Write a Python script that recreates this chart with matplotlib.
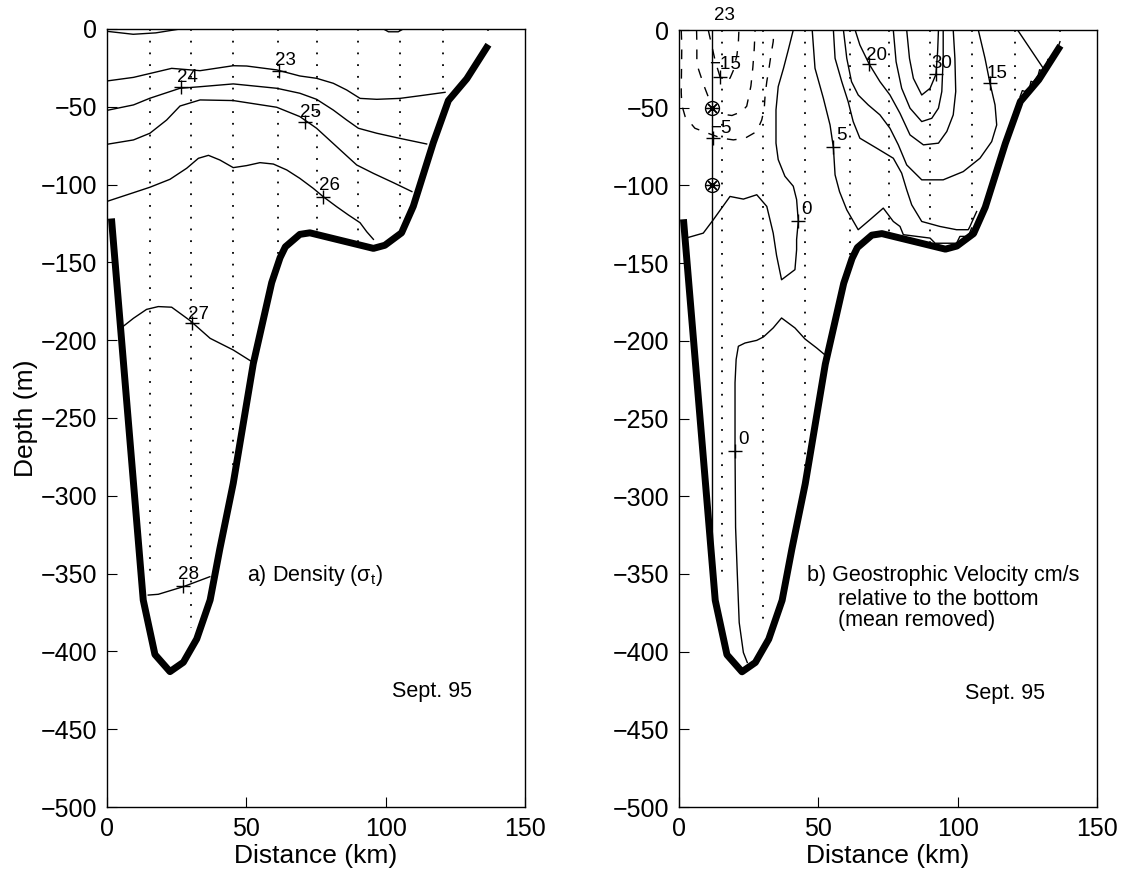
import numpy as np
import matplotlib.pyplot as plt

plt.rcParams['font.family'] = ['Liberation Sans', 'DejaVu Sans']
plt.rcParams['mathtext.fontset'] = 'custom'
plt.rcParams['mathtext.rm'] = 'Liberation Sans'
plt.rcParams['mathtext.it'] = 'Liberation Sans'

# bottom profile along the section (km, m)
bottom_km = [1.7, 13.0, 17.2, 22.6, 27.4, 32.2, 37.0, 40.5, 45.3, 52.5, 59.1, 62.1, 64.0,
             69.2, 72.8, 95.6, 99.7, 105.7, 109.9, 117.1, 122.5, 129.1, 136.2]
bottom_m = [-124, -367, -402, -413, -407, -392, -367, -334, -292, -215, -163, -147, -140,
            -132, -131, -141, -139, -131, -114, -73, -46, -32, -12]

# CTD stations and the depth of each cast
stations_km = [15.4, 30.1, 45.1, 61.3, 75.2, 90.1, 105.1, 120.7, 136.6]
cast_m = [-352, -385, -290, -150, -134, -139, -128, -40, -7]

# a) density (sigma_t) isolines, (km, m)
sig22 = [(0, -1.5), (9.4, -3.4), (17.5, -2.5), (26.2, 0)]
sig22b = [(99.2, 0), (101, -1.8), (104.5, -1.8), (106.3, 0)]
sig23 = [(0, -33.4), (9.5, -31.1), (23.2, -25.3), (33.4, -26.8), (45.3, -23.6), (50.1, -23.8),
         (60.9, -26.3), (69.2, -30.2), (75.2, -31.7), (81.2, -34.9), (86.0, -39.2), (90.8, -44.6),
         (96.8, -45.2), (105.1, -44.6), (112.3, -42.9), (121.3, -40.7)]
sig24 = [(0, -52.3), (9.5, -48.8), (15.4, -44.5), (26.2, -38.1), (33.4, -37.1), (45.3, -35.3),
         (60.9, -38.1), (69.2, -41.3), (75.2, -45.2), (81.2, -52.1), (86.0, -58.5), (90.2, -63.8),
         (96.8, -67.0), (105.1, -70.3), (114.7, -73.9)]
sig25 = [(0, -74.1), (9.5, -71.3), (15.4, -67.0), (21.4, -58.5), (26.2, -49.5), (33.4, -45.6),
         (45.3, -46.0), (60.9, -50.3), (69.2, -56.3), (75.2, -63.8), (82.4, -75.6), (89.6, -87.4),
         (95.6, -92.8), (102.8, -98.8), (109.4, -104.5)]
sig26 = [(0, -110.8), (9.5, -105.2), (15.4, -101.7), (22.6, -96.6), (28.6, -89.5), (32.8, -83.1),
         (36.4, -81.2), (40.5, -84.2), (45.3, -89.1), (50.1, -87.8), (54.9, -85.9), (59.7, -86.8),
         (64.5, -90.6), (69.2, -96.0), (74.0, -102.4), (77.6, -107.8), (82.4, -114.2), (86.6, -119.5),
         (90.8, -124.5), (93.2, -130.3), (95.6, -135.2)]
sig27 = [(4.9, -192.4), (9.5, -185.9), (14.2, -180.2), (18.4, -178.4), (23.2, -178.8), (29.8, -187.4),
         (37.0, -198.8), (45.3, -206.3), (52.5, -214.4)]
sig28 = [(14.8, -363.8), (18.4, -363.3), (27.4, -358.4), (36.9, -352.0)]

dens_text = ['23', '24', '25', '26', '27', '28']
dens_text_km = [63.9, 28.8, 73.1, 79.8, 32.8, 29.2]
dens_text_m = [-20, -31, -53.8, -100.9, -183.2, -350.5]
dens_mark_km = [61.7, 26.5, 71.1, 77.4, 30.4, 27.4]
dens_mark_m = [-26.7, -37.5, -60, -107.8, -189, -358]

# b) geostrophic velocity isolines (cm/s), (km, m)
vm5 = [(0.8, 0), (1.0, -10), (0.8, -40), (1.0, -48.2), (2.2, -55.7), (5.7, -63.2), (10.5, -66.5),
       (15.3, -69.6), (19.5, -70.7), (23.7, -69.6), (27.9, -65.3), (29.7, -57.8), (30.6, -50.3),
       (30.9, -41.8), (31.5, -33.2), (32.3, -24.6), (33.0, -16.1), (33.8, -7.5), (34.1, 0)]
vm10 = [(6.3, 0), (6.4, -8), (6.4, -22), (7.5, -28), (9.0, -36), (10.5, -43), (12.5, -50), (15.0, -54),
        (19.0, -55), (22.5, -52.5), (24.3, -49), (25.8, -36), (26.5, -24), (27.0, -12), (27.3, 0)]
vm15 = [(10.5, 0), (11.7, -9.6), (13.0, -20), (14.7, -30), (16.5, -32), (18.3, -31), (19.5, -26),
        (20.8, -16), (21.3, -8), (21.5, 0)]
v0a = [(2.3, -134), (8.7, -130.7), (12.3, -122.1), (18.3, -107.1), (23.1, -108.8), (27.9, -106),
       (31.5, -113.5), (33.8, -130.7), (35.0, -145), (36.8, -160.7), (41.6, -154.2), (42.2, -141.4),
       (42.2, -134.8), (42.8, -123), (42.2, -109.1), (41.0, -100.5), (38.0, -94.1), (35.6, -83.4),
       (34.8, -72.8), (34.8, -51.4), (35.6, -36.4), (37.5, -24.6), (39.2, -12.9), (41.0, 0)]
v0b = [(53.0, -210), (49.4, -204.6), (45.2, -198.8), (41.6, -191.7), (36.8, -185.3), (33.8, -191.7),
       (30.3, -197.5), (27.9, -199.7), (23.7, -201.4), (21.3, -203.5), (20.5, -212), (20.1, -227),
       (20.1, -270), (20.3, -320), (20.9, -349.2), (21.6, -381.3), (23.1, -400.6), (24.5, -407)]
v5 = [(47.8, 0), (48.8, -24.6), (51.8, -43.9), (54.2, -61.1), (55.4, -75.6), (56.0, -93.2), (57.6, -104),
      (60.2, -115.7), (64.3, -128.5), (68.5, -122.1), (73.3, -114.6), (76.9, -123.2), (79.3, -126.4),
      (80.5, -131.7), (90.1, -133.9), (91.9, -137.2), (99.6, -137.2), (100.8, -132.8), (103.8, -132.8),
      (105.0, -127.4)]
v10 = [(55.4, 0), (56.0, -18.2), (58.4, -33.2), (60.7, -46.1), (62.5, -58.9), (64.9, -69.6), (70.9, -76.0),
       (76.9, -82.5), (79.9, -92.1), (81.7, -102.8), (83.5, -112.5), (87.1, -123.2), (93.6, -126.4),
       (99.6, -128.5), (103.8, -128.5), (104.4, -126.4), (106.8, -116.8)]
v15 = [(59.0, 0), (60.2, -18.2), (61.9, -33.2), (64.3, -41.8), (67.9, -48.2), (72.1, -54.6), (75.7, -63.2),
       (78.7, -73.9), (81.7, -86.8), (87.1, -96.4), (94.8, -96.4), (102.0, -91.1), (108.0, -82.5),
       (112.2, -71.8), (114.0, -61.1), (113.4, -48.2), (111.6, -34.3), (109.8, -18.2), (107.4, 0)]
v20 = [(63.2, 0), (64.9, -9.6), (68.3, -22.1), (72.1, -33.2), (75.7, -41.8), (79.3, -53.6), (82.9, -67.5),
       (87.7, -73.9), (93.1, -72.8), (96.1, -65.3), (98.4, -54.6), (99.3, -39.6), (99.0, -18.2), (98.4, 0)]
v25 = [(76.9, 0), (77.9, -20.4), (79.9, -37.5), (82.9, -50.3), (87.1, -58.9), (90.7, -56.8), (93.1, -50.3),
       (94.3, -39.6), (94.8, -18.2), (94.8, 0)]
v30 = [(81.7, 0), (82.7, -18.2), (84.1, -31.1), (87.1, -41.8), (90.1, -37.5), (92.2, -28.5), (92.8, -13.9),
       (93.1, 0)]
v10b = [(121.5, 0), (130.7, -24.6)]
v_slope = [(122.4, -42.9), (123.2, -39.0), (124.1, -39.5), (125.9, -36.4), (126.3, -33.0), (127.1, -33.5),
           (128.9, -28.9), (129.4, -25.5), (130.1, -26.2), (131.9, -22.5), (132.4, -18.8), (133.1, -19.5),
           (134.9, -17.1), (136.7, -7.5)]

vel_text = ['\u221215', '\u22125', '0', '0', '5', '20', '30', '15']
vel_text_km = [16.5, 15.0, 45.8, 23.1, 58.4, 71.0, 94.3, 114.0]
vel_text_m = [-22.5, -63.2, -115.7, -263.5, -68.1, -16.1, -21.4, -27.8]
vel_mark_km = [14.7, 12.3, 42.8, 20.1, 55.4, 68.3, 92.2, 111.6]
vel_mark_m = [-30, -69.6, -123, -270.6, -75, -22.1, -28.5, -34.3]

# current meter mooring (station 23)
mooring_km = 11.7
meter_m = [-50, -100]


def draw_line(ax, pts, **kw):
    xy = np.array(pts)
    ax.plot(xy[:, 0], xy[:, 1], color='black', lw=1.0, **kw)


def setup(ax):
    ax.set_xlim(0, 150)
    ax.set_ylim(-500, 0)
    ax.set_xticks([0, 50, 100, 150])
    ax.set_yticks(np.arange(-500, 1, 50))
    ax.tick_params(direction='in', length=7, width=0.8, labelsize=18, pad=7)
    for s in ax.spines.values():
        s.set_linewidth(1.0)
    ax.set_xlabel('Distance (km)', fontsize=19, labelpad=2)
    # stations
    for sx, sd in zip(stations_km, cast_m):
        ax.plot([sx, sx], [0, sd], color='black', lw=1.3, ls=(0, (1, 5.5)), zorder=1)
    ax.plot(bottom_km, bottom_m, color='black', lw=5, solid_joinstyle='round', zorder=5)


fig = plt.figure(figsize=(11.24, 8.73), dpi=100)
ax1 = fig.add_axes([0.0952, 0.0756, 0.3719, 0.8912])
ax2 = fig.add_axes([0.6041, 0.0756, 0.3719, 0.8900])

# a) density
setup(ax1)
for c in [sig22, sig22b, sig23, sig24, sig25, sig26, sig27, sig28]:
    draw_line(ax1, c)
ax1.plot(dens_mark_km, dens_mark_m, '+', color='black', ms=10, mew=1.0)
for t, x, y in zip(dens_text, dens_text_km, dens_text_m):
    ax1.text(x, y, t, fontsize=13.5, ha='center', va='center')
ax1.set_ylabel('Depth (m)', fontsize=19, labelpad=2)
ax1.text(50.1, -351, 'a) Density (σ$_\\mathrm{t}$)', fontsize=15.5, va='center')
ax1.text(102.1, -426, 'Sept. 95', fontsize=15.5, va='center')

# b) geostrophic velocity
setup(ax2)
for c in [vm5, vm10, vm15]:
    draw_line(ax2, c, ls=(0, (7, 7)))
for c in [v0a, v0b, v5, v10, v15, v20, v25, v30, v10b, v_slope]:
    draw_line(ax2, c)
ax2.plot([mooring_km, mooring_km], [0, np.interp(mooring_km, bottom_km, bottom_m)],
         color='black', lw=1.0, zorder=2)
ax2.plot([mooring_km] * len(meter_m), meter_m, 'o', ms=10, mfc='white', mec='black', mew=1.0, zorder=6)
ax2.plot([mooring_km] * len(meter_m), meter_m, marker=(8, 2, 0), ls='none', ms=9, color='black',
         mew=0.9, zorder=7)
ax2.text(16.3, 9.6, '23', fontsize=13.5, ha='center', va='center', clip_on=False)
ax2.plot(vel_mark_km, vel_mark_m, '+', color='black', ms=10, mew=1.0)
for t, x, y in zip(vel_text, vel_text_km, vel_text_m):
    ax2.text(x, y, t, fontsize=13.5, ha='center', va='center')
ax2.text(45.8, -351.3, 'b) Geostrophic Velocity cm/s', fontsize=15.5, va='center')
ax2.text(57.2, -366.3, 'relative to the bottom', fontsize=15.5, va='center')
ax2.text(57.2, -380.3, '(mean removed)', fontsize=15.5, va='center')
ax2.text(102.6, -426.7, 'Sept. 95', fontsize=15.5, va='center')

fig.savefig('out.png', dpi=100)
